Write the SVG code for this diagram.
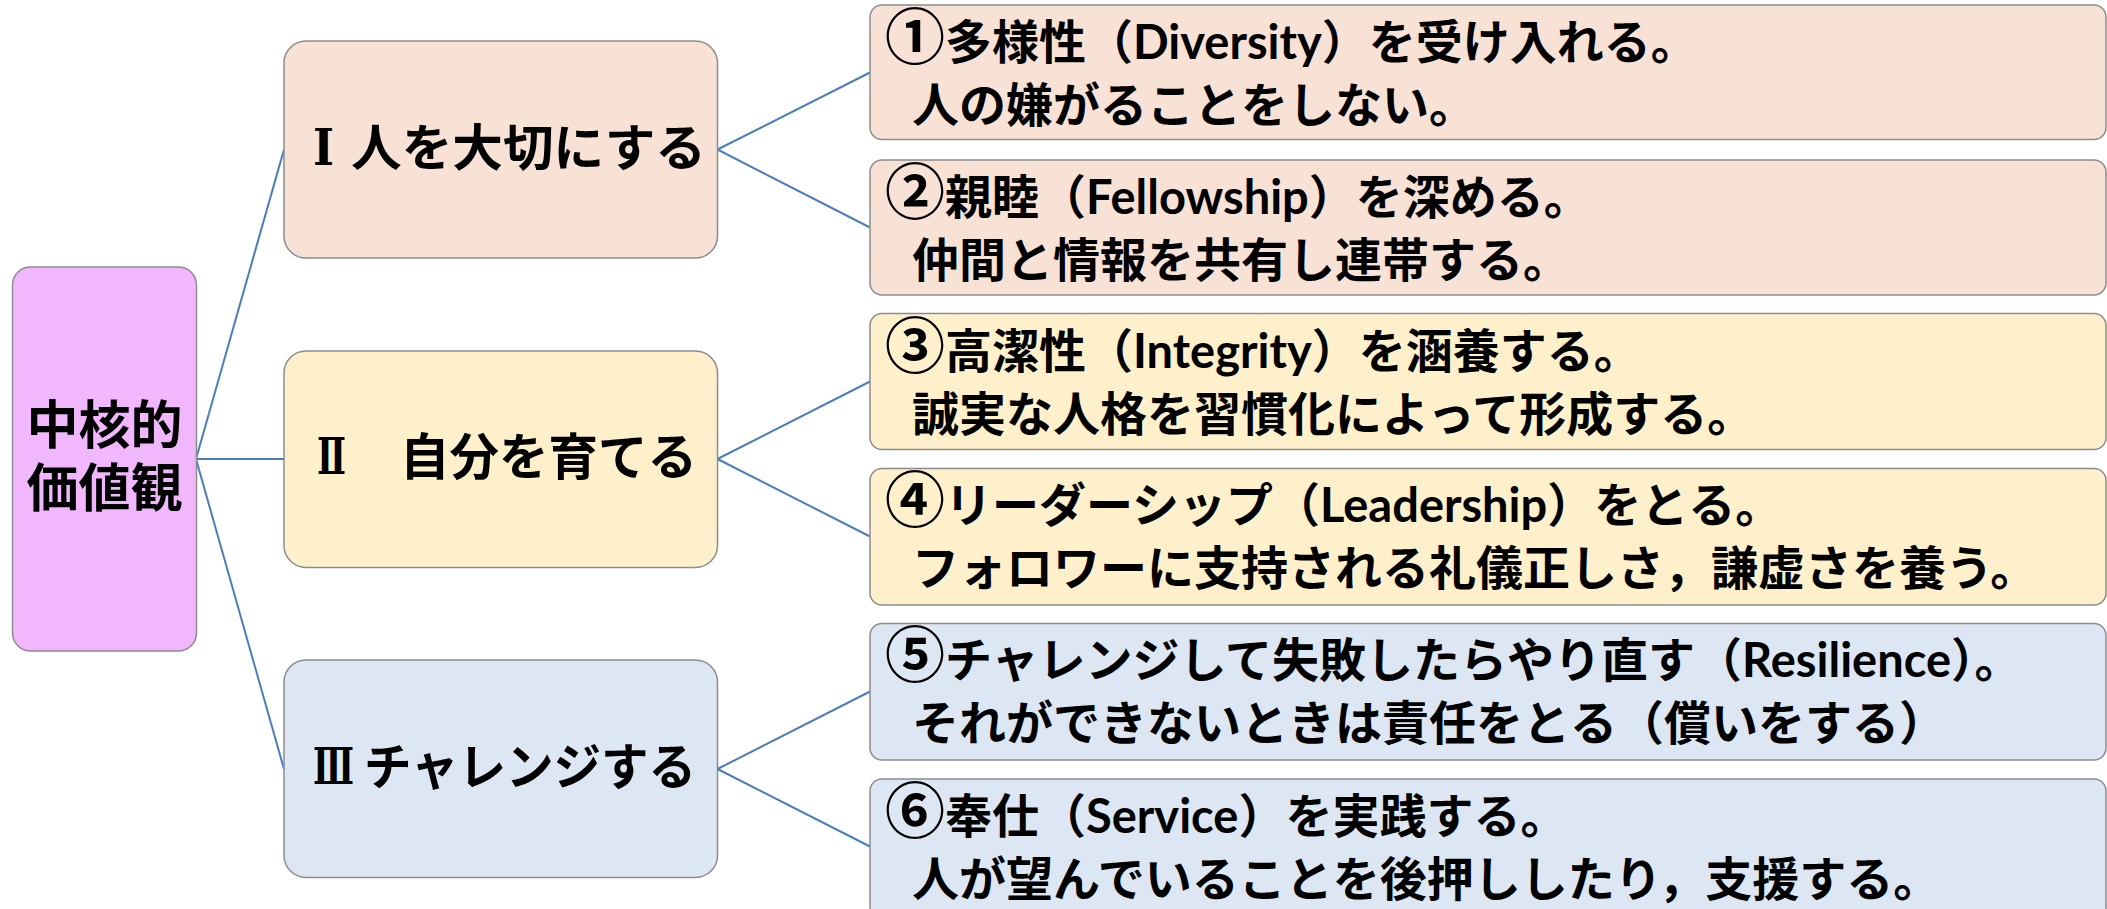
<svg xmlns="http://www.w3.org/2000/svg" width="2107" height="909" viewBox="0 0 2107 909">
<style>
.box{stroke:#8c8c8c;stroke-width:1.5}
.pk{fill:#f8e2d5}
.yl{fill:#fff0cc}
.bl{fill:#dce7f3}
.ct{fill:#f0b7fc}
text{font-family:Lato,"Noto Sans CJK JP",sans-serif;font-weight:700;fill:#000}
.j{font-family:"Noto Sans CJK JP",sans-serif}
.r{font-family:"DejaVu Serif","Noto Sans CJK JP",serif;font-size:51px}
.c{font-family:"Noto Sans CJK JP",sans-serif;font-size:60px}
.big{font-size:50px}
.mid{font-size:52px}
.t{font-size:47px}
.con{stroke:#4a7ebb;stroke-width:2;fill:none}
</style>
<rect width="2107" height="909" fill="#fff"/>
<g id="connectors">
<line class="con" x1="196" y1="459" x2="284" y2="149.5"/>
<line class="con" x1="196" y1="459" x2="284" y2="459"/>
<line class="con" x1="196" y1="459" x2="284" y2="769"/>
<line class="con" x1="717.5" y1="149.5" x2="870" y2="72.5"/>
<line class="con" x1="717.5" y1="149.5" x2="870" y2="227.5"/>
<line class="con" x1="717.5" y1="459" x2="870" y2="381.5"/>
<line class="con" x1="717.5" y1="459" x2="870" y2="536.5"/>
<line class="con" x1="717.5" y1="769" x2="870" y2="691.5"/>
<line class="con" x1="717.5" y1="769" x2="870" y2="846.5"/>
</g>
<g id="core">
<rect class="box ct" x="12.5" y="267" width="184" height="384" rx="18"/>
<text class="mid j" text-anchor="middle"><tspan x="104.5" y="444">中核的</tspan><tspan x="104.5" y="507">価値観</tspan></text>
</g>
<g id="n1">
<rect class="box pk" x="284" y="41" width="433.5" height="217" rx="22"/>
<text class="r" x="313" y="165" textLength="21" lengthAdjust="spacingAndGlyphs">Ⅰ</text>
<text class="big j" x="351" y="166" textLength="355" lengthAdjust="spacingAndGlyphs">人を大切にする</text>
</g>
<g id="n2">
<rect class="box yl" x="284" y="351" width="433.5" height="216.5" rx="22"/>
<text class="r" x="317" y="474" textLength="29" lengthAdjust="spacingAndGlyphs">Ⅱ</text>
<text class="big j" x="400" y="475" textLength="297" lengthAdjust="spacingAndGlyphs">自分を育てる</text>
</g>
<g id="n3">
<rect class="box bl" x="284" y="660" width="433.5" height="217.5" rx="22"/>
<text class="r" x="313" y="784" textLength="41" lengthAdjust="spacingAndGlyphs">Ⅲ</text>
<text class="big j" x="364" y="785" textLength="332" lengthAdjust="spacingAndGlyphs">チャレンジする</text>
</g>
<g id="b1">
<rect class="box pk" x="870" y="5" width="1236" height="134.5" rx="12"/>
<text class="t" y="59"><tspan class="c" x="885">①</tspan><tspan x="945">多様性（Diversity）を受け入れる。</tspan></text>
<text class="t" x="912" y="122">人の嫌がることをしない。</text>
</g>
<g id="b2">
<rect class="box pk" x="870" y="160" width="1236" height="135" rx="12"/>
<text class="t" y="214"><tspan class="c" x="885">②</tspan><tspan x="945">親睦（Fellowship）を深める。</tspan></text>
<text class="t" x="912" y="277">仲間と情報を共有し連帯する。</text>
</g>
<g id="b3">
<rect class="box yl" x="870" y="313.5" width="1236" height="136" rx="12"/>
<text class="t" y="368"><tspan class="c" x="885">③</tspan><tspan x="945">高潔性（Integrity）を涵養する。</tspan></text>
<text class="t" x="912" y="431">誠実な人格を習慣化によって形成する。</text>
</g>
<g id="b4">
<rect class="box yl" x="870" y="468.5" width="1236" height="136.5" rx="12"/>
<text class="t" y="522"><tspan class="c" x="885">④</tspan><tspan x="945">リーダーシップ（Leadership）をとる。</tspan></text>
<text class="t" x="912" y="585">フォロワーに支持される礼儀正しさ，謙虚さを養う。</text>
</g>
<g id="b5">
<rect class="box bl" x="870" y="623.5" width="1236" height="136.5" rx="12"/>
<text class="t" y="677"><tspan class="c" x="885">⑤</tspan><tspan x="945">チャレンジして失敗したらやり直す（Resilience）。</tspan></text>
<text class="t" x="912" y="740">それができないときは責任をとる（償いをする）</text>
</g>
<g id="b6">
<rect class="box bl" x="870" y="779" width="1236" height="140" rx="12"/>
<text class="t" y="833"><tspan class="c" x="885">⑥</tspan><tspan x="945">奉仕（Service）を実践する。</tspan></text>
<text class="t" x="912" y="896">人が望んでいることを後押ししたり，支援する。</text>
</g>
</svg>
